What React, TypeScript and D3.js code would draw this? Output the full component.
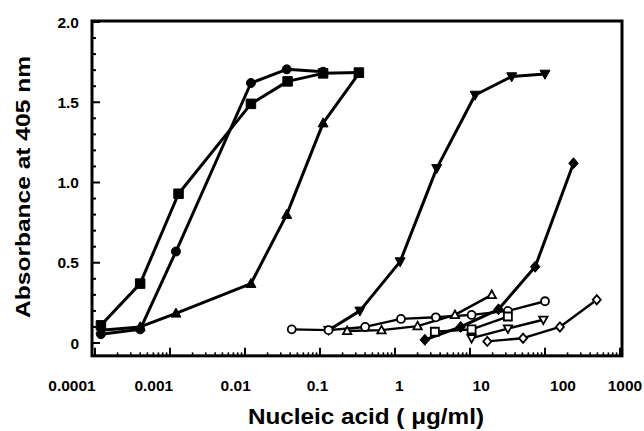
import React, { useEffect, useRef } from "react";
import * as d3 from "d3";

// ---- data (x in µg/ml, y absorbance at 405 nm) ----
const sqFilledX = [0.00012, 0.0004, 0.0013, 0.012, 0.037, 0.11, 0.33];
const sqFilledY = [0.11, 0.37, 0.93, 1.49, 1.63, 1.68, 1.685];

const circFilledX = [0.00012, 0.0004, 0.0012, 0.012, 0.036, 0.11];
const circFilledY = [0.055, 0.085, 0.57, 1.62, 1.705, 1.69];

const triFilledX = [0.00012, 0.0004, 0.0012, 0.012, 0.036, 0.11, 0.33];
const triFilledY = [0.08, 0.1, 0.185, 0.37, 0.8, 1.37, 1.68];

const invTriFilledX = [0.13, 0.34, 1.17, 3.6, 11.7, 36, 100];
const invTriFilledY = [0.08, 0.2, 0.507, 1.088, 1.545, 1.66, 1.676];

const diaFilledX = [2.5, 7.5, 24, 74, 240];
const diaFilledY = [0.02, 0.1, 0.21, 0.475, 1.12];

const circOpenX = [0.042, 0.13, 0.4, 1.2, 3.5, 10.5, 32, 100];
const circOpenY = [0.085, 0.08, 0.1, 0.15, 0.16, 0.175, 0.2, 0.26];

const triOpenX = [0.23, 0.66, 2, 6.3, 19.5];
const triOpenY = [0.075, 0.08, 0.105, 0.175, 0.3];

const sqOpenX = [3.4, 10.5, 32];
const sqOpenY = [0.07, 0.085, 0.165];

const invTriOpenX = [10.5, 32, 95];
const invTriOpenY = [0.03, 0.09, 0.145];

const diaOpenX = [17, 51, 158, 490];
const diaOpenY = [0.01, 0.03, 0.1, 0.27];

const xTickValues = [0.0001, 0.001, 0.01, 0.1, 1, 10, 100, 1000];
const xTickLabels = ["0.0001", "0.001", "0.01", "0.1", "1", "10", "100", "1000"];
const yTickValues = [0, 0.5, 1.0, 1.5, 2.0];
const yTickLabels = ["0", "0.5", "1.0", "1.5", "2.0"];

type Shape = "circle" | "square" | "triangle" | "invtriangle" | "diamond";
interface Series { xs: number[]; ys: number[]; shape: Shape; filled: boolean; }

const series: Series[] = [
  { xs: triFilledX, ys: triFilledY, shape: "triangle", filled: true },
  { xs: circFilledX, ys: circFilledY, shape: "circle", filled: true },
  { xs: sqFilledX, ys: sqFilledY, shape: "square", filled: true },
  { xs: invTriFilledX, ys: invTriFilledY, shape: "invtriangle", filled: true },
  { xs: diaFilledX, ys: diaFilledY, shape: "diamond", filled: true },
  { xs: circOpenX, ys: circOpenY, shape: "circle", filled: false },
  { xs: triOpenX, ys: triOpenY, shape: "triangle", filled: false },
  { xs: sqOpenX, ys: sqOpenY, shape: "square", filled: false },
  { xs: invTriOpenX, ys: invTriOpenY, shape: "invtriangle", filled: false },
  { xs: diaOpenX, ys: diaOpenY, shape: "diamond", filled: false },
];

const W = 644, H = 431;
const FONT = "'Liberation Sans', Arial, Helvetica, sans-serif";

function markerPath(shape: Shape, size: number): string {
  const h = size / 2;
  switch (shape) {
    case "square":
      return `M${-h},${-h}H${h}V${h}H${-h}Z`;
    case "triangle":
      return `M0,${-h * 1.1}L${h * 1.05},${h * 0.8}L${-h * 1.05},${h * 0.8}Z`;
    case "invtriangle":
      return `M0,${h * 1.1}L${h * 1.05},${-h * 0.8}L${-h * 1.05},${-h * 0.8}Z`;
    case "diamond":
      return `M0,${-h * 1.15}L${h * 1.0},0L0,${h * 1.15}L${-h * 1.0},0Z`;
    default:
      return d3.symbol(d3.symbolCircle, (size * size * Math.PI) / 4)() || "";
  }
}

export default function App() {
  const ref = useRef<SVGSVGElement>(null);

  useEffect(() => {
    const svg = d3.select(ref.current);
    svg.selectAll("*").remove();

    const x = d3.scaleLog().domain([1e-4, 1e3]).range([95, 620]);
    const y = d3.scaleLinear().domain([0, 2]).range([343, 22]);
    const [r0, r1] = x.range();
    const frameL = r0 - 3;
    const frameR = r1 + 2;
    const frameT = y(2) - 1;
    const frameB = y(-0.08);

    svg.append("rect").attr("x", 0).attr("y", 0).attr("width", W).attr("height", H).attr("fill", "#fff");

    // frame
    svg.append("rect")
      .attr("x", frameL).attr("y", frameT)
      .attr("width", frameR - frameL).attr("height", frameB - frameT)
      .attr("fill", "none").attr("stroke", "#000").attr("stroke-width", 3);

    // y ticks (inward)
    const yMinor = d3.range(0, 21).map((i) => i / 10);
    svg.append("g").selectAll("line").data(yMinor).join("line")
      .attr("x1", frameL)
      .attr("x2", (v) => frameL + (Math.abs(v * 2 - Math.round(v * 2)) < 1e-6 ? 8 : 4))
      .attr("y1", (v) => y(v)).attr("y2", (v) => y(v))
      .attr("stroke", "#000").attr("stroke-width", 2);

    // x ticks (inward, log minor)
    const minorX: number[] = [];
    for (let e = -4; e < 3; e++) for (let m = 2; m <= 9; m++) minorX.push(m * Math.pow(10, e));
    svg.append("g").selectAll("line").data(minorX).join("line")
      .attr("x1", (v) => x(v)).attr("x2", (v) => x(v))
      .attr("y1", frameB).attr("y2", frameB - 3.5)
      .attr("stroke", "#000").attr("stroke-width", 1.6);
    svg.append("g").selectAll("line").data(xTickValues).join("line")
      .attr("x1", (v) => x(v)).attr("x2", (v) => x(v))
      .attr("y1", frameB).attr("y2", frameB - 8)
      .attr("stroke", "#000").attr("stroke-width", 2);

    // tick labels
    const labelX = d3.scaleLinear().domain([-4, 2]).range([72, 563]);
    svg.append("g").selectAll("text").data(xTickValues).join("text")
      .attr("x", (v, i) => (i === xTickValues.length - 1 ? 625 : labelX(Math.log10(v))))
      .attr("y", 391)
      .attr("text-anchor", "middle").attr("font-family", FONT).attr("font-weight", "bold")
      .attr("font-size", 15.5).attr("fill", "#000")
      .text((_, i) => xTickLabels[i]);
    svg.append("g").selectAll("text").data(yTickValues).join("text")
      .attr("x", 79).attr("y", (v) => y(v) + 5.5)
      .attr("text-anchor", "end").attr("font-family", FONT).attr("font-weight", "bold")
      .attr("font-size", 15.5).attr("fill", "#000")
      .text((_, i) => yTickLabels[i]);

    // titles
    svg.append("text").attr("x", 366).attr("y", 424).attr("text-anchor", "middle")
      .attr("font-family", FONT).attr("font-weight", "bold").attr("font-size", 22)
      .attr("textLength", 236).attr("lengthAdjust", "spacingAndGlyphs").attr("fill", "#000")
      .text("Nucleic acid ( μg/ml)");
    svg.append("text").attr("transform", "translate(30,187) rotate(-90)").attr("text-anchor", "middle")
      .attr("font-family", FONT).attr("font-weight", "bold").attr("font-size", 21)
      .attr("textLength", 262).attr("lengthAdjust", "spacingAndGlyphs").attr("fill", "#000")
      .text("Absorbance at 405 nm");

    // series
    const line = d3.line<[number, number]>().x((d) => x(d[0])).y((d) => y(d[1]));
    series.forEach((s) => {
      const pts = s.xs.map((v, j) => [v, s.ys[j]] as [number, number]);
      svg.append("path").attr("d", line(pts) || "").attr("fill", "none")
        .attr("stroke", "#000").attr("stroke-width", s.filled ? 3 : 2.4).attr("stroke-linejoin", "round");
    });
    series.forEach((s) => {
      const pts = s.xs.map((v, j) => [v, s.ys[j]] as [number, number]);
      const size = s.filled ? (s.shape === "circle" ? 9 : 9.5) : 8;
      svg.append("g").selectAll("path").data(pts).join("path")
        .attr("transform", (d) => `translate(${x(d[0])},${y(d[1])})`)
        .attr("d", markerPath(s.shape, size))
        .attr("fill", s.filled ? "#000" : "#fff").attr("stroke", "#000")
        .attr("stroke-width", s.filled ? 1 : 1.8);
    });
  }, []);

  return <svg ref={ref} width={W} height={H} style={{ position: "absolute", left: 0, top: 0 }} />;
}
